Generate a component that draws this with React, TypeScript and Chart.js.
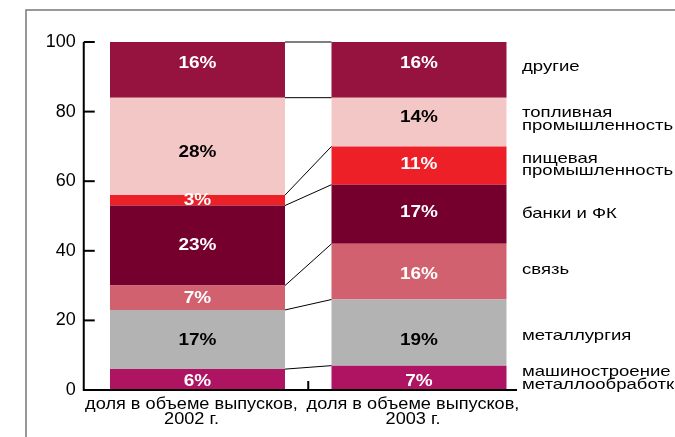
import React, { useEffect, useRef } from "react";
import { Chart, registerables } from "chart.js";

Chart.register(...registerables);

// ---- data ----
const categories = [
  ["доля в объеме выпусков,", "2002 г."],
  ["доля в объеме выпусков,", "2003 г."],
];
const sectors = [
  "машиностроение\nметаллообработка",
  "металлургия",
  "связь",
  "банки и ФК",
  "пищевая\nпромышленность",
  "топливная\nпромышленность",
  "другие",
];
const share2002 = [6, 17, 7, 23, 3, 28, 16];
const share2003 = [7, 19, 16, 17, 11, 14, 16];
const yTicks = [0, 20, 40, 60, 80, 100];

// ---- styles ----
const colors = ["#AE1461", "#B3B3B3", "#D2616F", "#75002D", "#ED1F27", "#F4C7C7", "#97133F"];
const darkText = [false, true, false, false, false, true, false];
const labelOffsets = [0.5, 3.5, -1.5, -0.5, -0.5, -2.5, -2.5];
const pctOffsets = [
  [1, 0, 0, -1, -1, 5, -7],
  [3, 7, 2, -3, -2, -6, -7],
];
const FONT = "'Liberation Sans', Arial, sans-serif";

function stretchText(ctx: CanvasRenderingContext2D, text: string, x: number, y: number, sx: number, align: CanvasTextAlign) {
  ctx.save();
  ctx.translate(x, y);
  ctx.scale(sx, 1);
  ctx.textAlign = align;
  ctx.fillText(text, 0, 0);
  ctx.restore();
}

const decorPlugin = {
  id: "decor",
  beforeDraw(chart: any) {
    const ctx = chart.ctx as CanvasRenderingContext2D;
    ctx.save();
    ctx.strokeStyle = "#777";
    ctx.lineWidth = 1.5;
    ctx.beginPath();
    ctx.moveTo(26, 437);
    ctx.lineTo(26, 10);
    ctx.lineTo(675, 10);
    ctx.stroke();
    ctx.restore();
  },
  afterDatasetsDraw(chart: any) {
    const ctx = chart.ctx as CanvasRenderingContext2D;
    const ys = chart.scales.y;
    const xs = chart.scales.x;
    const area = chart.chartArea;
    ctx.save();

    // connectors
    ctx.strokeStyle = "#000";
    ctx.lineWidth = 1;
    chart.data.datasets.forEach((_: any, i: number) => {
      const meta = chart.getDatasetMeta(i);
      const b0 = meta.data[0];
      const b1 = meta.data[1];
      ctx.beginPath();
      ctx.moveTo(b0.x + b0.width / 2, b0.y);
      ctx.lineTo(b1.x - b1.width / 2, b1.y);
      ctx.stroke();
    });

    // percent labels
    ctx.font = `bold 16.5px ${FONT}`;
    ctx.textBaseline = "middle";
    chart.data.datasets.forEach((ds: any, i: number) => {
      const meta = chart.getDatasetMeta(i);
      meta.data.forEach((bar: any, j: number) => {
        ctx.fillStyle = darkText[i] ? "#000" : "#fff";
        const cy = (bar.y + bar.base) / 2 + 1 + pctOffsets[j][i];
        stretchText(ctx, `${ds.data[j]}%`, bar.x, cy, 1.15, "center");
      });
    });

    // axes
    const x0 = area.left - 3;
    const yTop = ys.getPixelForValue(100);
    const yBot = ys.getPixelForValue(0);
    ctx.strokeStyle = "#000";
    ctx.lineWidth = 2;
    ctx.beginPath();
    ctx.moveTo(x0, yTop);
    ctx.lineTo(x0, yBot);
    ctx.lineTo(517, yBot);
    ctx.stroke();
    yTicks.forEach((t) => {
      const y = ys.getPixelForValue(t);
      ctx.beginPath();
      ctx.moveTo(x0, y);
      ctx.lineTo(x0 + 11, y);
      ctx.stroke();
    });
    const xm = (xs.getPixelForValue(0) + xs.getPixelForValue(1)) / 2;
    ctx.beginPath();
    ctx.moveTo(xm, yBot);
    ctx.lineTo(xm, yBot - 9);
    ctx.stroke();

    // category labels
    ctx.fillStyle = "#000";
    ctx.font = `16.5px ${FONT}`;
    categories.forEach((lines, j) => {
      const cx = xs.getPixelForValue(j) - 6;
      lines.forEach((ln, k) => {
        stretchText(ctx, ln, cx, yBot + 14 + k * 15, 1.1, "center");
      });
    });

    // sector labels on the right
    ctx.font = `14.5px ${FONT}`;
    const meta1 = chart.data.datasets.map((_: any, i: number) => chart.getDatasetMeta(i).data[1]);
    sectors.forEach((name, i) => {
      const bar = meta1[i];
      const cy = (bar.y + bar.base) / 2 + labelOffsets[i];
      const lines = name.split("\n");
      const h = 12.5;
      lines.forEach((ln, k) => {
        const y = cy - ((lines.length - 1) * h) / 2 + k * h;
        stretchText(ctx, ln, 522, y, 1.28, "left");
      });
    });

    ctx.restore();
  },
};

export default function App() {
  const ref = useRef<HTMLCanvasElement>(null);
  useEffect(() => {
    document.body.style.margin = "0";
    const canvas = ref.current!;
    const chart = new Chart(canvas, {
      type: "bar",
      data: {
        labels: categories.map((c) => c.join(" ")),
        datasets: sectors.map((s, i) => ({
          label: s,
          data: [share2002[i], share2003[i]],
          backgroundColor: colors[i],
          borderWidth: 0,
          categoryPercentage: 1,
          barPercentage: 0.79,
        })),
      },
      options: {
        responsive: false,
        animation: false,
        layout: { padding: { left: 0, right: 145.25, top: 42, bottom: 47 } },
        plugins: { legend: { display: false }, tooltip: { enabled: false } },
        scales: {
          x: { stacked: true, display: false },
          y: {
            stacked: true,
            min: 0,
            max: 100,
            afterFit: (scale: any) => {
              scale.width = 86.75;
            },
            afterBuildTicks: (scale: any) => {
              scale.ticks = yTicks.map((v) => ({ value: v }));
            },
            grid: { display: false, drawTicks: false },
            border: { display: false },
            ticks: {
              padding: 11,
              color: "#000",
              font: { family: FONT, size: 18 },
            },
          },
        },
      },
      plugins: [decorPlugin],
    });
    return () => chart.destroy();
  }, []);
  return <canvas ref={ref} width={675} height={437} style={{ display: "block" }} />;
}
